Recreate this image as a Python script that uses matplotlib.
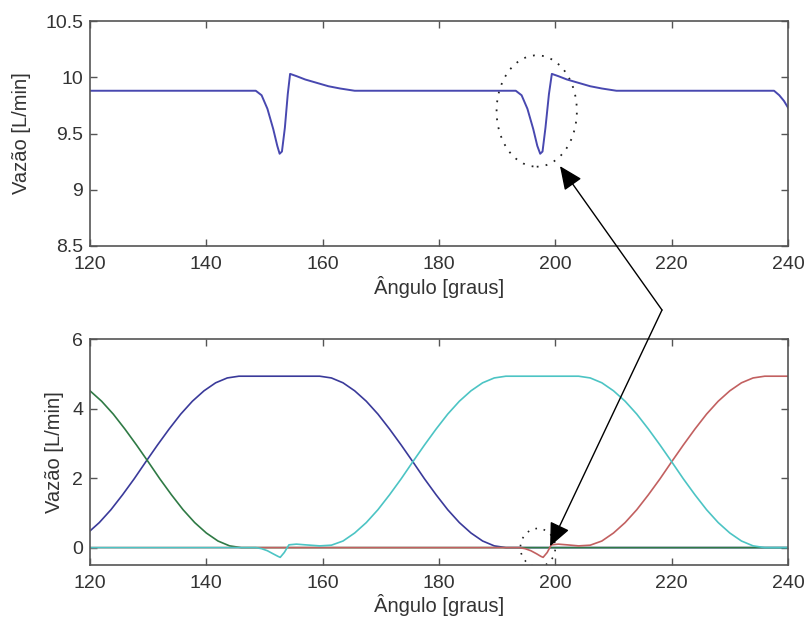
import matplotlib
matplotlib.use("Agg")
import matplotlib.pyplot as plt
from matplotlib.patches import Ellipse

plt.rcParams['font.family'] = ['Liberation Sans', 'DejaVu Sans']

# ---- total flow (upper panel) ----
total_angle = [120, 148.5, 149.5, 150.5, 151.5, 152.2, 152.6, 153.0, 153.5, 154.0, 154.4, 155.5,
               157, 159, 161, 163, 165.5,
               193.2, 194.2, 195.2, 196.2, 196.9, 197.4, 197.8, 198.3, 198.9, 199.4, 200.5,
               202, 204, 206, 208, 210.5,
               237.6, 238.5, 239.3, 240]
total_flow = [9.88, 9.88, 9.84, 9.72, 9.54, 9.39, 9.32, 9.34, 9.55, 9.85, 10.03, 10.01,
              9.98, 9.95, 9.92, 9.90, 9.88,
              9.88, 9.84, 9.72, 9.54, 9.39, 9.32, 9.34, 9.55, 9.85, 10.03, 10.01,
              9.98, 9.95, 9.92, 9.90, 9.88,
              9.88, 9.84, 9.79, 9.73]

# ---- individual chamber flows (lower panel) ----
blue_angle = [119.6, 121.6, 123.6, 125.6, 127.6, 129.6, 131.6, 133.6, 135.6, 137.6,
              139.6, 141.6, 143.6, 145.6,
              159.5, 161.5, 163.5, 165.5, 167.5, 169.5, 171.5, 173.5, 175.5, 177.5,
              179.5, 181.5, 183.5, 185.5, 187.5, 189.5, 191.5, 240]
blue_flow = [0.42, 0.72, 1.09, 1.52, 1.98, 2.47, 2.95, 3.41, 3.84, 4.21,
             4.51, 4.74, 4.88, 4.93,
             4.93, 4.88, 4.74, 4.51, 4.21, 3.84, 3.41, 2.95, 2.47, 1.98,
             1.52, 1.09, 0.72, 0.42, 0.19, 0.05, 0.0, 0.0]

green_angle = [120, 122, 124, 126, 128, 130, 132, 134, 136, 138, 140, 142, 144, 146, 240]
green_flow = [4.51, 4.21, 3.84, 3.41, 2.95, 2.47, 1.98, 1.52, 1.09, 0.72,
              0.42, 0.19, 0.05, 0.0, 0.0]

red_angle = [120, 193.8, 194.8, 195.8, 196.8, 197.5, 197.9, 198.6, 199.3, 200.5, 202,
             204, 206, 208, 210, 212, 214, 216, 218, 220, 222, 224, 226, 228,
             230, 232, 234, 236, 240]
red_flow = [0.0, 0.0, -0.03, -0.09, -0.18, -0.25, -0.28, -0.14, 0.08, 0.10, 0.08,
            0.05, 0.07, 0.19, 0.42, 0.72, 1.09, 1.52, 1.98, 2.47, 2.95, 3.41,
            3.84, 4.21, 4.51, 4.74, 4.88, 4.93, 4.93]

cyan_angle = [120, 148.5, 149.5, 150.5, 151.5, 152.3, 152.7, 153.4, 154.2, 155.5, 157,
              159.5, 161.5, 163.5, 165.5, 167.5, 169.5, 171.5, 173.5, 175.5,
              177.5, 179.5, 181.5, 183.5, 185.5, 187.5, 189.5, 191.5,
              204, 206, 208, 210, 212, 214, 216, 218, 220, 222, 224, 226, 228,
              230, 232, 234, 236, 240]
cyan_flow = [0.0, 0.0, -0.03, -0.09, -0.18, -0.25, -0.28, -0.14, 0.08, 0.10, 0.08,
             0.05, 0.07, 0.19, 0.42, 0.72, 1.09, 1.52, 1.98, 2.47,
             2.95, 3.41, 3.84, 4.21, 4.51, 4.74, 4.88, 4.93,
             4.93, 4.88, 4.74, 4.51, 4.21, 3.84, 3.41, 2.95, 2.47, 1.98, 1.52,
             1.09, 0.72, 0.42, 0.19, 0.05, 0.0, 0.0]

x_ticks = [120, 140, 160, 180, 200, 220, 240]
top_yticks = [8.5, 9, 9.5, 10, 10.5]
top_ytick_labels = ['8.5', '9', '9.5', '10', '10.5']
bot_yticks = [0, 2, 4, 6]

xlabel_text = 'Ângulo [graus]'
ylabel_text = 'Vazão [L/min]'

W, H = 806, 622
fig = plt.figure(figsize=(W / 100, H / 100), dpi=100)
ax1 = fig.add_axes([90 / W, 1 - 246 / H, 698 / W, 225 / H])
ax2 = fig.add_axes([90 / W, 1 - 565 / H, 698 / W, 226 / H])

spine_col = '#555555'
text_col = '#333333'


def style(ax, ylabelpad):
    for s in ax.spines.values():
        s.set_color(spine_col)
        s.set_linewidth(1.2)
    ax.tick_params(direction='in', length=5, width=1, colors=spine_col,
                   top=True, right=True, labelsize=14, labelcolor=text_col)
    ax.tick_params(axis='x', pad=7)
    ax.tick_params(axis='y', pad=5)
    ax.set_xlim(120, 240)
    ax.set_xticks(x_ticks)
    ax.set_xlabel(xlabel_text, fontsize=14.5, color=text_col, labelpad=2)
    ax.set_ylabel(ylabel_text, fontsize=14.5, color=text_col, labelpad=ylabelpad)


# upper panel
ax1.plot(total_angle, total_flow, color='#4848b0', lw=1.4)
style(ax1, 10)
ax1.set_ylim(8.5, 10.5)
ax1.set_yticks(top_yticks)
ax1.set_yticklabels(top_ytick_labels)
ax1.add_patch(Ellipse((196.8, 9.70), 13.8, 0.99, fill=False, edgecolor='#222222',
                      lw=1.3, linestyle=(0, (1, 4))))

# lower panel (drawing order sets which zero-line shows on top)
ax2.plot(blue_angle, blue_flow, color='#3a3a9a', lw=1.2)
ax2.plot(green_angle, green_flow, color='#2f7a45', lw=1.2)
ax2.plot(red_angle, red_flow, color='#c26060', lw=1.2)
ax2.plot(cyan_angle, cyan_flow, color='#4cc4c4', lw=1.2)
style(ax2, 6)
ax2.set_ylim(-0.5, 6)
ax2.set_yticks(bot_yticks)
ax2.add_patch(Ellipse((197.0, 0.0), 6.0, 1.1, fill=False, edgecolor='#222222',
                      lw=1.2, linestyle=(0, (1, 4))))

# arrows from a common vertex to both highlighted regions
vertex = (662 / W, 1 - 310 / H)
arrow_props = dict(arrowstyle='-|>,head_length=0.9,head_width=0.4',
                   color='black', lw=1.0, shrinkA=0, shrinkB=0,
                   mutation_scale=16)
ax1.annotate('', xy=(200.8, 9.21), xycoords='data',
             xytext=vertex, textcoords='figure fraction',
             arrowprops=arrow_props, annotation_clip=False)
ax2.annotate('', xy=(199.1, 0.04), xycoords='data',
             xytext=vertex, textcoords='figure fraction',
             arrowprops=arrow_props, annotation_clip=False)

fig.savefig('out.png', dpi=100)
